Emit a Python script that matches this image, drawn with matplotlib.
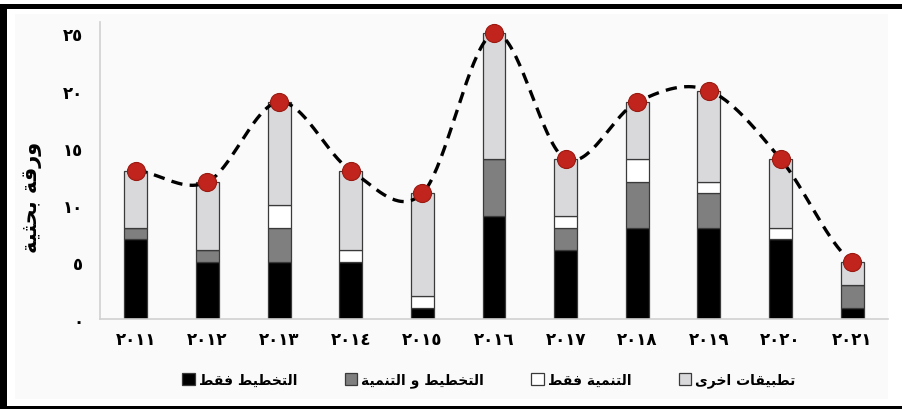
import numpy as np
import matplotlib
matplotlib.use("Agg")
import matplotlib.pyplot as plt
from matplotlib.patches import Rectangle

# papers per year, split by topic (bottom to top of each stack)
years = ["٢٠١١", "٢٠١٢", "٢٠١٣", "٢٠١٤", "٢٠١٥", "٢٠١٦",
         "٢٠١٧", "٢٠١٨", "٢٠١٩", "٢٠٢٠", "٢٠٢١"]
planning_only = [7, 5, 5, 5, 1, 9, 6, 8, 8, 7, 1]
planning_dev = [1, 1, 3, 0, 0, 5, 2, 4, 3, 0, 2]
dev_only = [0, 0, 2, 1, 1, 0, 1, 2, 1, 1, 0]
other_apps = [5, 6, 9, 7, 9, 11, 5, 5, 8, 6, 2]

series_names = ["التخطيط فقط", "التخطيط و التنمية", "التنمية فقط", "تطبيقات اخرى"]
series_colors = ["#000000", "#7f7f7f", "#ffffff", "#d9d9dc"]
y_ticks = [0, 5, 10, 15, 20, 25]
y_ticklabels = ["٠", "٥", "١٠", "١٥", "٢٠", "٢٥"]
y_label = "ورقة بحثية"

# Arabic presentation forms: (isolated, final[, initial, medial])
FORMS = {
    "ا": (0xFE8D, 0xFE8E),
    "ب": (0xFE8F, 0xFE90, 0xFE91, 0xFE92),
    "ة": (0xFE93, 0xFE94),
    "ت": (0xFE95, 0xFE96, 0xFE97, 0xFE98),
    "ث": (0xFE99, 0xFE9A, 0xFE9B, 0xFE9C),
    "ح": (0xFEA1, 0xFEA2, 0xFEA3, 0xFEA4),
    "خ": (0xFEA5, 0xFEA6, 0xFEA7, 0xFEA8),
    "ر": (0xFEAD, 0xFEAE),
    "ط": (0xFEC1, 0xFEC2, 0xFEC3, 0xFEC4),
    "ف": (0xFED1, 0xFED2, 0xFED3, 0xFED4),
    "ق": (0xFED5, 0xFED6, 0xFED7, 0xFED8),
    "ل": (0xFEDD, 0xFEDE, 0xFEDF, 0xFEE0),
    "م": (0xFEE1, 0xFEE2, 0xFEE3, 0xFEE4),
    "ن": (0xFEE5, 0xFEE6, 0xFEE7, 0xFEE8),
    "و": (0xFEED, 0xFEEE),
    "ى": (0xFEEF, 0xFEF0),
    "ي": (0xFEF1, 0xFEF2, 0xFEF3, 0xFEF4),
}


def shape_ar(text):
    """Join Arabic letters into their contextual forms and lay them out RTL."""
    out = []
    for i, ch in enumerate(text):
        forms = FORMS.get(ch)
        if forms is None:
            out.append(ch)
            continue
        prev = text[i - 1] if i > 0 else None
        nxt = text[i + 1] if i + 1 < len(text) else None
        join_prev = prev in FORMS and len(FORMS[prev]) == 4
        join_next = len(forms) == 4 and nxt in FORMS
        if join_prev and join_next:
            idx = 3
        elif join_prev:
            idx = 1
        elif join_next:
            idx = 2
        else:
            idx = 0
        out.append(chr(forms[idx]))
    return "".join(reversed(out))


def catmull_rom(xs, ys, steps=40):
    """Smoothed curve through the points (end points repeated)."""
    p = np.asarray(ys, dtype=float)
    p = np.concatenate([[p[0]], p, [p[-1]]])
    cx, cy = [], []
    t = np.linspace(0, 1, steps)
    for i in range(len(xs) - 1):
        p0, p1, p2, p3 = p[i], p[i + 1], p[i + 2], p[i + 3]
        m1 = (p2 - p0) / 2
        m2 = (p3 - p1) / 2
        h00 = 2 * t**3 - 3 * t**2 + 1
        h10 = t**3 - 2 * t**2 + t
        h01 = -2 * t**3 + 3 * t**2
        h11 = t**3 - t**2
        cy.extend(h00 * p1 + h10 * m1 + h01 * p2 + h11 * m2)
        cx.extend(xs[i] + t * (xs[i + 1] - xs[i]))
    return np.array(cx), np.array(cy)


plt.rcParams["font.family"] = ["DejaVu Sans"]

W, H = 903, 410
fig = plt.figure(figsize=(W / 100, H / 100), dpi=100)
fig.patch.set_facecolor("white")

# light panel + black frame (left, top, bottom)
fig.patches.append(Rectangle((15, 10), 873, 385, transform=None,
                             facecolor="#fafafa", edgecolor="none", zorder=0))
for x0, y0, w, h in [(0, 0, 7, 405), (0, 400, W, 5), (0, 0, W, 3)]:
    fig.patches.append(Rectangle((x0, y0), w, h, transform=None,
                                 facecolor="black", edgecolor="none", zorder=5))

ax = fig.add_axes([100 / W, 1 - 320 / H, 788 / W, 297 / H])
ax.set_facecolor("none")
ax.set_zorder(2)

x = np.arange(len(years))
stacks = [planning_only, planning_dev, dev_only, other_apps]
bottom = np.zeros(len(years))
for vals, name, col in zip(stacks, series_names, series_colors):
    ax.bar(x, vals, width=0.32, bottom=bottom, color=col,
           edgecolor="#3a3a3a", linewidth=0.9, label=shape_ar(name), zorder=2)
    bottom += np.array(vals)

totals = bottom
sx, sy = catmull_rom(x, totals)
ax.plot(sx, sy, color="black", lw=2.4, linestyle=(0, (3.4, 2.2)), zorder=3)
ax.plot(x, totals, "o", color="#c0241c", markeredgecolor="#9a1a12",
        markeredgewidth=0.8, markersize=13, zorder=4)

ax.set_xlim(-0.5, len(years) - 0.5)
ax.set_ylim(0, 26)
ax.set_xticks(x)
ax.set_xticklabels(years, fontsize=12, fontweight="bold")
ax.set_yticks(y_ticks)
ax.set_yticklabels(y_ticklabels, fontsize=12, fontweight="bold")
ax.tick_params(axis="both", length=0)
ax.tick_params(axis="x", pad=8)
ax.tick_params(axis="y", pad=12)
for side in ["top", "right"]:
    ax.spines[side].set_visible(False)
for side in ["left", "bottom"]:
    ax.spines[side].set_color("#d0d0d0")
    ax.spines[side].set_linewidth(1.2)

fig.text(32 / W, 1 - 197 / H, shape_ar(y_label), rotation=90, fontsize=15,
         fontweight="bold", ha="center", va="center")

ax.legend(loc="center", bbox_to_anchor=(489 / W, 1 - 381 / H),
          bbox_transform=fig.transFigure, ncol=4, frameon=False,
          prop={"weight": "bold", "size": 10}, handlelength=0.9,
          handleheight=0.9, handletextpad=0.3, columnspacing=3.4)

fig.savefig("out.png", dpi=100)
